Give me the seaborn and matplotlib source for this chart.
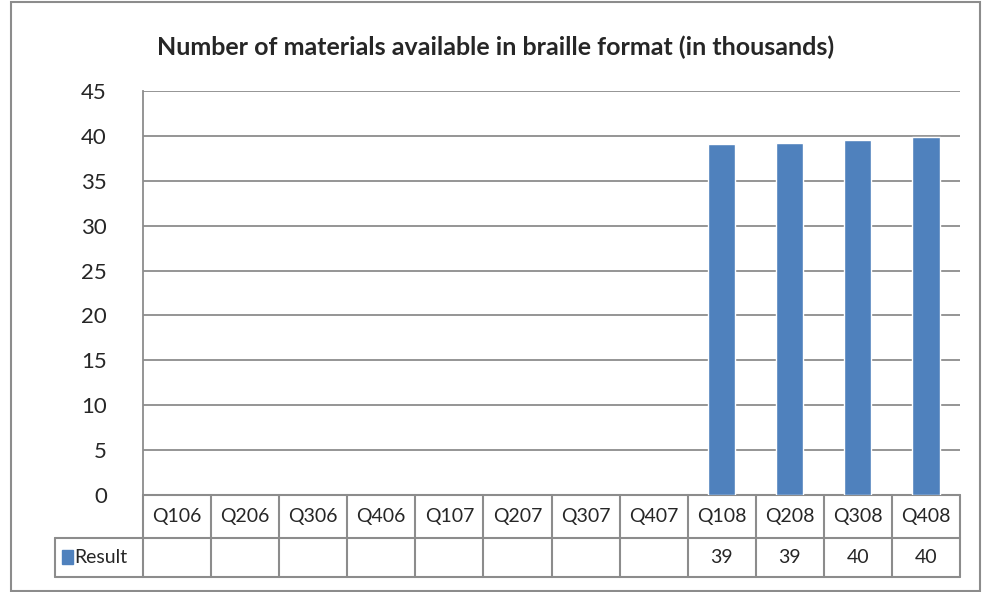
import numpy as np
import pandas as pd
import seaborn as sns
import matplotlib.pyplot as plt
from matplotlib.patches import Rectangle
from matplotlib.lines import Line2D
import matplotlib.transforms as mtransforms

quarters = ['Q106', 'Q206', 'Q306', 'Q406', 'Q107', 'Q207', 'Q307', 'Q407',
            'Q108', 'Q208', 'Q308', 'Q408']
results = [np.nan, np.nan, np.nan, np.nan, np.nan, np.nan, np.nan, np.nan,
           39.15, 39.2, 39.5, 39.9]
table_labels = ['', '', '', '', '', '', '', '', '39', '39', '40', '40']
series_name = 'Result'
title = 'Number of materials available in braille format (in thousands)'

sns.set_style('white')
plt.rcParams['font.family'] = ['Lato', 'DejaVu Sans']

bar_color = '#4F81BD'
line_color = '#8C8C8C'

W, H = 986, 592
fig = plt.figure(figsize=(W / 100, H / 100), dpi=100)
# plot area in pixels: x 143..960, y 91..495
ax = fig.add_axes([143 / W, 1 - 495 / H, (960 - 143) / W, (495 - 91) / H])

df = pd.DataFrame({'quarter': quarters, 'value': results})
sns.barplot(data=df, x='quarter', y='value', color=bar_color, width=0.4,
            saturation=1, ax=ax, zorder=3)

ax.set_ylim(0, 45)
ax.set_xlim(-0.5, len(quarters) - 0.5)
ax.set_yticks(range(0, 46, 5))
ax.yaxis.grid(True, color=line_color, linewidth=1.3, zorder=0)
ax.set_axisbelow(True)
ax.tick_params(axis='y', length=0, pad=26, labelsize=16)
ax.set_xticks([])
ax.set_xlabel('')
ax.set_ylabel('')
for s in ['top', 'right', 'bottom']:
    ax.spines[s].set_visible(False)
ax.spines['left'].set_color(line_color)
ax.spines['left'].set_linewidth(1.3)

fig.suptitle(title, x=496 / W, y=1 - 47 / H, va='center', fontsize=18,
             fontweight='bold')

# data table under the plot (x in data units, y in axes fraction)
tr = mtransforms.blended_transform_factory(ax.transData, ax.transAxes)
ax_h = 495 - 91
y_top = 0.0
y_mid = -(538 - 495) / ax_h
y_bot = -(577 - 495) / ax_h
col_w = (960 - 143) / len(quarters)
x_leg = -0.5 - (143 - 55) / col_w
x_end = len(quarters) - 0.5

lw = 1.5
segs = [((-0.5, x_end), (y_top, y_top)),
        ((x_leg, x_end), (y_mid, y_mid)),
        ((x_leg, x_end), (y_bot, y_bot)),
        ((x_leg, x_leg), (y_mid, y_bot))]
for i in range(len(quarters) + 1):
    segs.append(((i - 0.5, i - 0.5), (y_top, y_bot)))
for xs, ys in segs:
    ax.add_line(Line2D(xs, ys, transform=tr, color=line_color, lw=lw,
                       clip_on=False))

for i, (q, lab) in enumerate(zip(quarters, table_labels)):
    ax.text(i, (y_top + y_mid) / 2, q, transform=tr, ha='center', va='center',
            fontsize=14)
    if lab:
        ax.text(i, (y_mid + y_bot) / 2, lab, transform=tr, ha='center',
                va='center', fontsize=14)

# legend key inside the first table cell
ax.add_patch(Rectangle((x_leg + 0.1, (y_mid + y_bot) / 2 - 0.016), 0.17, 0.035,
                       transform=tr, color=bar_color, clip_on=False))
ax.text(x_leg + 0.28, (y_mid + y_bot) / 2, series_name, transform=tr,
        ha='left', va='center', fontsize=14)

# outer chart border
fig.add_artist(Rectangle((11 / W, 1 / H), (980 - 11) / W, (590 - 1) / H,
                         transform=fig.transFigure, fill=False,
                         edgecolor=line_color, lw=1.5))

fig.savefig('out.png', dpi=100)
